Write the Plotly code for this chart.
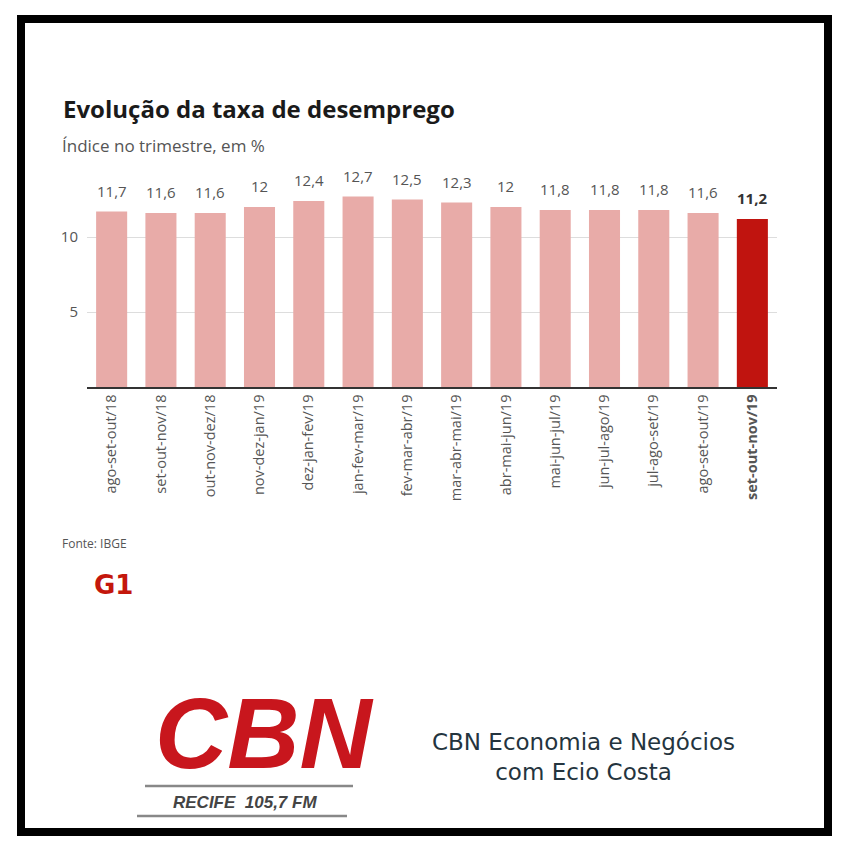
import plotly.graph_objects as go

# dados (PNAD / IBGE)
periodos = ['ago-set-out/18', 'set-out-nov/18', 'out-nov-dez/18', 'nov-dez-jan/19',
            'dez-jan-fev/19', 'jan-fev-mar/19', 'fev-mar-abr/19', 'mar-abr-mai/19',
            'abr-mai-jun/19', 'mai-jun-jul/19', 'jun-jul-ago/19', 'jul-ago-set/19',
            'ago-set-out/19', 'set-out-nov/19']
taxa = [11.7, 11.6, 11.6, 12, 12.4, 12.7, 12.5, 12.3, 12, 11.8, 11.8, 11.8, 11.6, 11.2]
rotulos = ['11,7', '11,6', '11,6', '12', '12,4', '12,7', '12,5', '12,3', '12',
           '11,8', '11,8', '11,8', '11,6', '11,2']
yticks = [5, 10]

W, H = 850, 850
OFF = 8                          # margem da pagina no navegador
L, R, T, B = 87, 777, 192, 387   # area do grafico na imagem (pixels)

def px(x):
    return (x - L) / (R - L)

def py(y):
    return (B - y) / (B - T)

FONT = 'Open Sans'
GRAY = '#555555'
n = len(periodos)
cores = ['#e8aba8'] * (n - 1) + ['#c0140f']
ticktext = periodos[:-1] + ['<b>' + periodos[-1] + '</b>']

fig = go.Figure()
fig.add_trace(go.Bar(x=periodos, y=taxa, marker_color=cores, marker_line_width=0,
                     hoverinfo='skip'))

anns = []
for i, (p, v, r) in enumerate(zip(periodos, taxa, rotulos)):
    ultimo = i == n - 1
    anns.append(dict(x=p, y=v, xref='x', yref='y', yanchor='bottom', yshift=9,
                     text='<b>' + r + '</b>' if ultimo else r, showarrow=False,
                     font=dict(family=FONT, size=15, color='#333333' if ultimo else GRAY)))

# textos fora do grafico
anns += [
    dict(x=px(61), y=py(108), xref='paper', yref='paper', xanchor='left', yanchor='middle',
         text='<b>Evolução da taxa de desemprego</b>', showarrow=False,
         font=dict(family=FONT, size=24, color='#1a1a1a')),
    dict(x=px(60), y=py(145), xref='paper', yref='paper', xanchor='left', yanchor='middle',
         text='Índice no trimestre, em %', showarrow=False,
         font=dict(family=FONT, size=17, color=GRAY)),
    dict(x=px(60), y=py(543), xref='paper', yref='paper', xanchor='left', yanchor='middle',
         text='Fonte: IBGE', showarrow=False,
         font=dict(family=FONT, size=12, color=GRAY)),
    dict(x=px(113), y=py(585), xref='paper', yref='paper', xanchor='center', yanchor='middle',
         text='<b>G1</b>', showarrow=False,
         font=dict(family='DejaVu Sans', size=26, color='#c4170c')),
    dict(x=px(264), y=py(733), xref='paper', yref='paper', xanchor='center', yanchor='middle',
         text='<b><i>CBN</i></b>', showarrow=False,
         font=dict(family='Liberation Sans', size=100, color='#c8161d')),
    dict(x=px(245), y=py(802), xref='paper', yref='paper', xanchor='center', yanchor='middle',
         text='<b><i>RECIFE  105,7 FM</i></b>', showarrow=False,
         font=dict(family='Liberation Sans', size=17, color='#444444')),
    dict(x=px(583), y=py(757), xref='paper', yref='paper', xanchor='center', yanchor='middle',
         text='CBN Economia e Negócios<br>com Ecio Costa', showarrow=False,
         font=dict(family='DejaVu Sans', size=23, color='#24343e')),
]

shapes = [
    dict(type='rect', xref='paper', yref='paper', x0=px(21), x1=px(828), y0=py(19), y1=py(832),
         line=dict(color='black', width=8)),
    dict(type='line', xref='paper', yref='paper', x0=px(145), x1=px(353), y0=py(786), y1=py(786),
         line=dict(color='#888888', width=2.5)),
    dict(type='line', xref='paper', yref='paper', x0=px(137), x1=px(347), y0=py(816), y1=py(816),
         line=dict(color='#888888', width=2.5)),
]

fig.update_layout(
    width=W, height=H,
    margin=dict(l=L - OFF, r=W - R + OFF, t=T - OFF, b=H - B + OFF, pad=0),
    paper_bgcolor='white', plot_bgcolor='white',
    bargap=0.37, showlegend=False,
    annotations=anns, shapes=shapes,
    font=dict(family=FONT, color=GRAY),
)
fig.update_xaxes(tickmode='array', tickvals=periodos, ticktext=ticktext, tickangle=-90,
                 tickfont=dict(family=FONT, size=14.5, color=GRAY), ticks='',
                 showline=True, linecolor='#333333', linewidth=1.5, showgrid=False)
fig.update_yaxes(range=[0, 13], tickvals=yticks, ticks='', showline=False,
                 gridcolor='#dddddd', gridwidth=1, zeroline=False,
                 tickfont=dict(family=FONT, size=15, color=GRAY), ticklabelstandoff=8)

fig.write_html("out.html")
